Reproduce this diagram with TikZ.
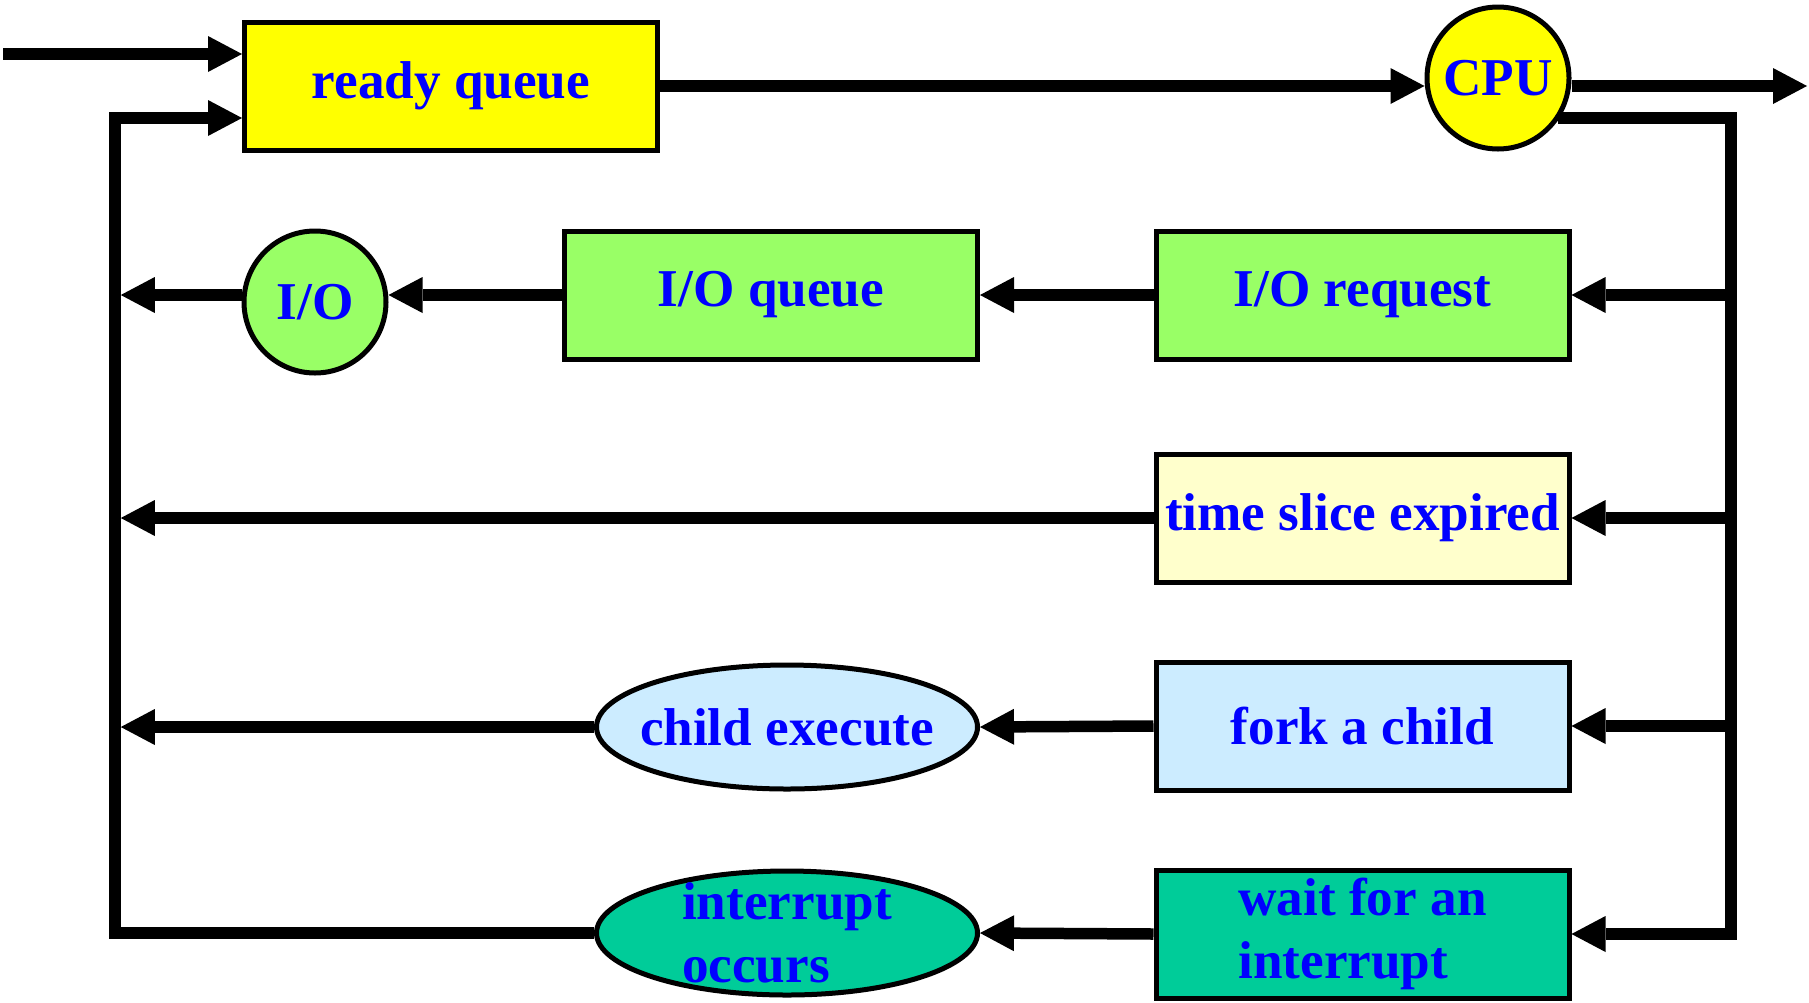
\documentclass[tikz,border=0pt]{standalone}
\usepackage{fontspec}
\setmainfont{Liberation Serif}
\usetikzlibrary{arrows.meta,shapes.geometric}
\definecolor{cyellow}{HTML}{FFFF00}
\definecolor{cgreen}{HTML}{99FF66}
\definecolor{clyellow}{HTML}{FFFFCC}
\definecolor{clblue}{HTML}{CCECFF}
\definecolor{cteal}{HTML}{00CC99}
\definecolor{textblue}{HTML}{0000FF}
\begin{document}
\begin{tikzpicture}[x=0.5pt,y=-0.5pt,
  lbl/.style={font=\fontsize{26.6}{31.5}\selectfont\bfseries, text=textblue},
  box/.style={lbl, draw=black, line width=2.5pt, minimum width=206.5pt, minimum height=64pt, inner sep=0pt},
  circ/.style={lbl, circle, draw=black, line width=2.5pt, minimum size=71pt, inner sep=0pt},
  ell/.style={lbl, ellipse, draw=black, line width=2.5pt, minimum width=190.5pt, minimum height=62pt, inner xsep=-10pt, inner ysep=-12pt},
  conn/.style={line width=5.75pt},
  arr/.style={conn, -{Triangle[length=17pt,width=18pt,line width=0pt]}}]
\useasboundingbox (0,0) rectangle (1809,1002);
\coordinate (lbus) at (115,118);
\coordinate (rbus) at (1731,118);
\coordinate (in0) at (3,54);
\coordinate (out1) at (1807,86);

\node[box, fill=cyellow] (rq) at (451,86) {ready queue};
\node[circ, fill=cyellow] (cpu) at (1498,78) {CPU};
\node[box, fill=cgreen] (iorq) at (1362.5,295) {I/O request};
\node[box, fill=cgreen] (ioq) at (771,295) {I/O queue};
\node[circ, fill=cgreen] (io) at (315,302) {I/O};
\node[box, fill=clyellow] (tse) at (1362.5,518) {time slice expired};
\node[box, fill=clblue] (fork) at (1362.5,726) {fork a child};
\node[ell, fill=clblue] (child) at (787,727) {child execute};
\node[box, fill=cteal, align=left] (wait) at (1362.5,934) {wait for an\\interrupt};
\node[ell, fill=cteal, align=left] (intr) at (787,933) {interrupt\\occurs};

\draw[arr] (in0) -- (in0 -| rq.west);
\draw[arr] (rq.east) -- (rq.east -| cpu.west);
\draw[arr] (cpu.east |- out1) -- (out1);
\draw[arr] (rbus -| cpu.-35) -- (rbus) -- (rbus |- wait.east) -- (wait.east);
\draw[arr] (rbus |- iorq.east) -- (iorq.east);
\draw[arr] (rbus |- tse.east) -- (tse.east);
\draw[arr] (rbus |- fork.east) -- (fork.east);
\draw[arr] (iorq.west) -- (ioq.east);
\draw[arr] (ioq.west) -- (ioq.west -| io.east);
\draw[arr, shorten >=2.9pt] (io.west |- ioq.west) -- (lbus |- ioq.west);
\draw[arr, shorten >=2.9pt] (tse.west) -- (lbus |- tse.west);
\draw[arr] (fork.west) -- (child.east);
\draw[arr, shorten >=2.9pt] (child.west) -- (lbus |- child.west);
\draw[arr] (wait.west) -- (intr.east);
\draw[arr] (intr.west) -- (lbus |- intr.west) -- (lbus) -- (lbus -| rq.west);
\end{tikzpicture}
\end{document}
